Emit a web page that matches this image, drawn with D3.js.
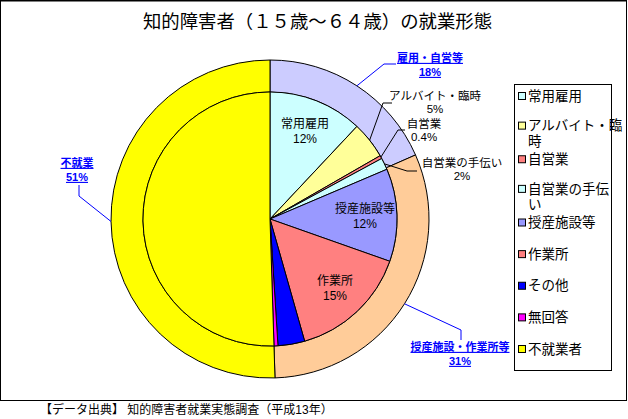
<!DOCTYPE html>
<html><head><meta charset="utf-8">
<script src="https://cdn.jsdelivr.net/npm/d3@7"></script>
<style>
body{margin:0;background:#fff;}
svg{display:block;font-family:"Liberation Sans","Noto Sans CJK JP",sans-serif;}
</style></head><body>
<svg id="c" width="628" height="419"></svg>
<script>
const titleText = "知的障害者（１５歳～６４歳）の就業形態";
const sourceText = "【データ出典】 知的障害者就業実態調査（平成13年）";

const innerCategories = ["常用雇用","アルバイト・臨時","自営業","自営業の手伝い","授産施設等","作業所","その他","無回答","不就業者"];
const innerValues = [12.0, 4.7, 0.4, 1.5, 11.8, 15.2, 3.4, 0.5, 50.5];
const innerColors = ["#CCFFFF","#FFFF99","#FF8080","#CCFFFF","#9999FF","#FF8080","#0000FF","#FF00FF","#FFFF00"];
const innerPctLabels = ["12%","5%","0.4%","2%","12%","15%","",""," "];

const outerCategories = ["雇用・自営等","授産施設・作業所等","不就業"];
const outerValues = [18.4, 31.1, 50.5];
const outerColors = ["#CCCCFF","#FFCC99","#FFFF00"];
const outerPctLabels = ["18%","31%","51%"];

const legendLines = [["常用雇用"],["アルバイト・臨","時"],["自営業"],["自営業の手伝","い"],["授産施設等"],["作業所"],["その他"],["無回答"],["不就業者"]];

const svg = d3.select("#c");
const cx = 270, cy = 219, rIn = 127, rOut = 159;

// frame
svg.append("rect").attr("x",0.5).attr("y",0.5).attr("width",626).attr("height",400)
  .attr("fill","#fff").attr("stroke","#000").attr("stroke-width",1);
svg.append("line").attr("x1",0).attr("x2",627).attr("y1",1).attr("y2",1).attr("stroke","#000").attr("stroke-width",1);

// title
svg.append("text").attr("x",143).attr("y",22).attr("dy","0.35em")
  .attr("font-size",18).attr("textLength",349).attr("lengthAdjust","spacingAndGlyphs").text(titleText);

const pie = d3.pie().sort(null).value(d=>d);
const g = svg.append("g").attr("transform",`translate(${cx},${cy})`);

const outerArc = d3.arc().innerRadius(rIn).outerRadius(rOut);
const innerArc = d3.arc().innerRadius(0).outerRadius(rIn);
const labelArc = d3.arc().innerRadius(0).outerRadius(190);

const outerData = pie(outerValues);
const innerData = pie(innerValues);

g.selectAll("path.o").data(outerData).join("path").attr("class","o")
  .attr("d",outerArc).attr("fill",(d,i)=>outerColors[i]).attr("stroke","#000").attr("stroke-width",1);
g.selectAll("path.i").data(innerData).join("path").attr("class","i")
  .attr("d",innerArc).attr("fill",(d,i)=>innerColors[i]).attr("stroke","#000").attr("stroke-width",1);

function pt(d, r){ const a = (d.startAngle+d.endAngle)/2; return [Math.sin(a)*r, -Math.cos(a)*r]; }

// inner labels inside slices
[0,4,5].forEach(i=>{
  const [x,y] = labelArc.centroid(innerData[i]);
  const t = g.append("text").attr("text-anchor","middle").attr("font-size",12);
  t.append("tspan").attr("x",x).attr("y",y-7).attr("dy","0.35em").text(innerCategories[i]);
  t.append("tspan").attr("x",x).attr("y",y+8).attr("dy","0.35em").text(innerPctLabels[i]);
});

// inner small-slice labels with leaders
const smallLab = [
  {i:1, elbow:[113,-116], end:[122,-116], lx:165, ly:-123},
  {i:2, elbow:[128,-89], end:[135,-89], lx:154, ly:-95},
  {i:3, elbow:[137,-48], end:[147,-48], lx:192, ly:-56}
];
smallLab.forEach(s=>{
  const p = pt(innerData[s.i], rIn);
  g.append("polyline").attr("points",[p,s.elbow,s.end].map(q=>q.join(",")).join(" "))
    .attr("fill","none").attr("stroke","#000").attr("stroke-width",1);
  const t = g.append("text").attr("text-anchor","middle").attr("font-size",11.5);
  t.append("tspan").attr("x",s.lx).attr("y",s.ly).attr("dy","0.35em").text(innerCategories[s.i]);
  t.append("tspan").attr("x",s.lx).attr("y",s.ly+13.2).attr("dy","0.35em").text(innerPctLabels[s.i]);
});

// outer labels
const outerLab = [
  {i:0, elbow:[114,-155], end:[126,-155], lx:160, ly:-161},
  {i:1, elbow:[191,111], end:[191,121], lx:190, ly:128},
  {i:2, elbow:[-191,-23], end:[-191,-34], lx:-193, ly:-56}
];
outerLab.forEach(s=>{
  const p = pt(outerData[s.i], rOut);
  g.append("polyline").attr("points",[p,s.elbow,s.end].map(q=>q.join(",")).join(" "))
    .attr("fill","none").attr("stroke","#0000FF").attr("stroke-width",1);
  const t = g.append("text").attr("text-anchor","middle").attr("font-size",11).attr("font-weight","bold")
    .attr("fill","#0000FF").attr("text-decoration","underline");
  t.append("tspan").attr("x",s.lx).attr("y",s.ly).attr("dy","0.35em").text(outerCategories[s.i]);
  t.append("tspan").attr("x",s.lx).attr("y",s.ly+14).attr("dy","0.35em").text(outerPctLabels[s.i]);
});

// legend
svg.append("rect").attr("x",514.5).attr("y",84.5).attr("width",97).attr("height",286)
  .attr("fill","#fff").attr("stroke","#000").attr("stroke-width",1);
const ly = d3.scalePoint().domain(d3.range(innerCategories.length)).range([96,349]);
innerCategories.forEach((c,i)=>{
  const y0 = legendLines[i].length>1 ? ly(i)-2 : ly(i);
  svg.append("rect").attr("x",518.5).attr("y",y0-3.5).attr("width",7).attr("height",7)
    .attr("fill",innerColors[i]).attr("stroke","#000").attr("stroke-width",1);
  legendLines[i].forEach((ln,k)=>{
    svg.append("text").attr("x",528).attr("y",y0+k*15.5).attr("dy","0.35em").attr("font-size",13.5).text(ln);
  });
});

// source
svg.append("text").attr("x",40).attr("y",410).attr("dy","0.35em").attr("font-size",12).text(sourceText);
</script>
</body></html>
